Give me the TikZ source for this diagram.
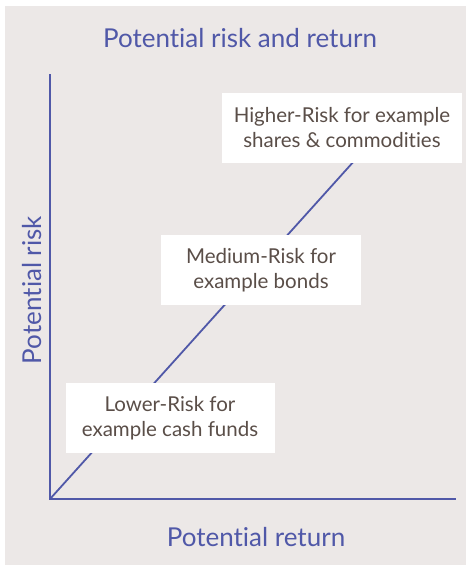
\documentclass[tikz,border=0pt]{standalone}
\usepackage{fontspec}
\setmainfont{Lato}[Ligatures={NoCommon}]
\definecolor{axisblue}{HTML}{5058A8}
\definecolor{labelbrown}{HTML}{5A4E48}
\definecolor{panelgrey}{HTML}{ECE8E7}
\tikzset{
  axistext/.style={text=axisblue,font=\fontsize{26}{30}\selectfont},
  riskbox/.style={fill=white,text=labelbrown,align=center,minimum height=70pt,
    font=\fontsize{20.5}{25}\selectfont}
}
\begin{document}
\begin{tikzpicture}[x=1pt,y=-1pt]
  \useasboundingbox (0,0) rectangle (466,565);
  \fill[panelgrey] (5,6) rectangle (466,565);
  \node[axistext] (title) at (240,38) {Potential risk and return};
  \coordinate (origin) at (50,499);
  \coordinate (ytop) at (50,74);
  \coordinate (xend) at (456,499);
  \coordinate (lineend) at (364,150);
  \draw[axisblue,line width=1.8pt] (origin) -- (lineend);
  \draw[axisblue,line width=2.2pt] (ytop) -- (origin) -- (xend);
  \node[axistext,rotate=90] (risk) at (32,290) {Potential risk};
  \node[axistext] (return) at (256,537) {Potential return};
  \begin{scope}[every node/.style={riskbox}]
    \node[minimum width=240pt] (high) at (342,128) {Higher-Risk for example\\shares \& commodities};
    \node[minimum width=200pt] (medium) at (261,270) {Medium-Risk for\\example bonds};
    \node[minimum width=209pt] (low) at (170,418) {Lower-Risk for\\example cash funds};
  \end{scope}
\end{tikzpicture}
\end{document}
